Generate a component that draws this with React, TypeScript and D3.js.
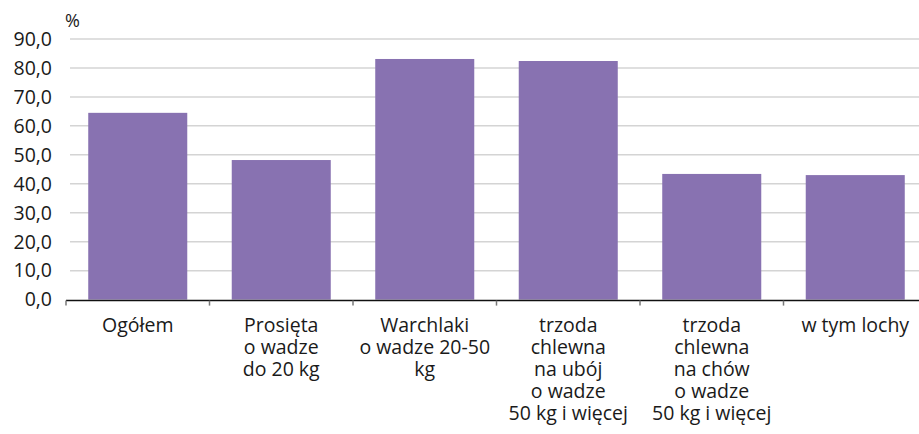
import { useEffect, useRef } from 'react';
import * as d3 from 'd3';

const categories: string[][] = [
    ['Ogółem'],
    ['Prosięta', 'o wadze', 'do 20 kg'],
    ['Warchlaki', 'o wadze 20-50', 'kg'],
    ['trzoda', 'chlewna', 'na ubój', 'o wadze', '50 kg i więcej'],
    ['trzoda', 'chlewna', 'na chów', 'o wadze', '50 kg i więcej'],
    ['w tym lochy'],
];
const values = [64.5, 48.2, 83.1, 82.4, 43.4, 43.0];
const yTicks = [0, 10, 20, 30, 40, 50, 60, 70, 80, 90];

const width = 919;
const height = 434;
const font = '"Open Sans", "Noto Sans", sans-serif';

export default function App() {
    const svgRef = useRef<SVGSVGElement>(null);

    useEffect(() => {
        if (!svgRef.current) return;
        const svg = d3.select(svgRef.current);
        svg.selectAll('*').remove();

        const left = 66;
        const plotRight = 927;
        const yScale = d3.scaleLinear().domain([0, 90]).range([299.6, 39]);
        const xScale = d3.scaleBand<number>()
            .domain(d3.range(categories.length))
            .range([left, plotRight])
            .paddingInner(0.31)
            .paddingOuter(0.155);

        // gridlines
        svg.append('g')
            .selectAll('line')
            .data(yTicks.filter(t => t > 0))
            .join('line')
            .attr('x1', 70)
            .attr('x2', width)
            .attr('y1', d => yScale(d))
            .attr('y2', d => yScale(d))
            .attr('stroke', '#d4d4d4')
            .attr('stroke-width', 1.5);

        // y labels
        svg.append('g')
            .selectAll('text')
            .data(yTicks)
            .join('text')
            .attr('x', 52)
            .attr('y', d => yScale(d))
            .attr('dy', '0.35em')
            .attr('text-anchor', 'end')
            .attr('font-family', font)
            .attr('font-size', 19.5)
            .attr('fill', '#1a1a1a')
            .text(d => d.toFixed(1).replace('.', ','));

        svg.append('text')
            .attr('x', 65)
            .attr('y', 27)
            .attr('font-family', font)
            .attr('font-size', 18)
            .attr('fill', '#1a1a1a')
            .text('%');

        // bars
        svg.append('g')
            .selectAll('rect')
            .data(values)
            .join('rect')
            .attr('x', (_, i) => xScale(i)!)
            .attr('width', xScale.bandwidth())
            .attr('y', d => yScale(d))
            .attr('height', d => yScale(0) - yScale(d))
            .attr('fill', '#8872b1');

        // x axis
        const step = xScale.step();
        svg.append('line')
            .attr('x1', left)
            .attr('x2', width)
            .attr('y1', yScale(0) + 1)
            .attr('y2', yScale(0) + 1)
            .attr('stroke', '#111')
            .attr('stroke-width', 1.5);

        svg.append('g')
            .selectAll('line')
            .data(d3.range(categories.length + 1))
            .join('line')
            .attr('x1', i => left + i * step)
            .attr('x2', i => left + i * step)
            .attr('y1', yScale(0) + 1)
            .attr('y2', yScale(0) + 6)
            .attr('stroke', '#777')
            .attr('stroke-width', 1.5);

        const labels = svg.append('g')
            .selectAll('text')
            .data(categories)
            .join('text')
            .attr('text-anchor', 'middle')
            .attr('font-family', font)
            .attr('font-size', 19.5)
            .attr('fill', '#1a1a1a');

        labels.selectAll('tspan')
            .data((d, i) => d.map(line => ({ line, i })))
            .join('tspan')
            .attr('x', d => xScale(d.i)! + xScale.bandwidth() / 2)
            .attr('y', (_, j) => 332 + j * 22)
            .text(d => d.line);
    }, []);

    return (
        <svg
            ref={svgRef}
            width={width}
            height={height}
            style={{ position: 'absolute', left: 0, top: 0, background: '#fff' }}
        />
    );
}
